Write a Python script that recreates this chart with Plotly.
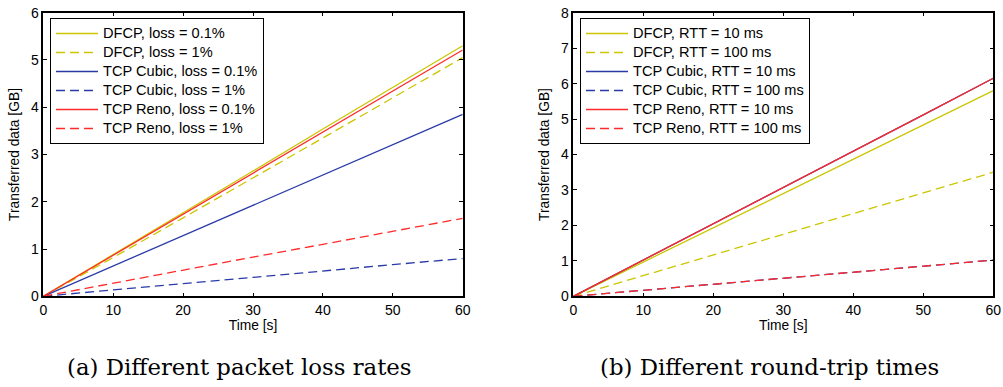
import plotly.graph_objects as go

t = [0, 10, 20, 30, 40, 50, 60]

# (a) packet loss
dfcp_l01 = [0, 0.88, 1.77, 2.65, 3.54, 4.42, 5.30]
dfcp_l1 = [0, 0.82, 1.66, 2.50, 3.35, 4.20, 5.05]
cubic_l01 = [0, 0.64, 1.28, 1.92, 2.56, 3.20, 3.85]
cubic_l1 = [0, 0.14, 0.27, 0.40, 0.54, 0.67, 0.80]
reno_l01 = [0, 0.87, 1.74, 2.61, 3.48, 4.35, 5.21]
reno_l1 = [0, 0.28, 0.55, 0.83, 1.10, 1.38, 1.65]

# (b) RTT
dfcp_r10 = [0, 0.97, 1.93, 2.90, 3.87, 4.83, 5.80]
dfcp_r100 = [0, 0.58, 1.17, 1.75, 2.33, 2.92, 3.50]
cubic_r10 = [0, 1.02, 2.05, 3.07, 4.10, 5.12, 6.15]
cubic_r100 = [0, 0.17, 0.34, 0.51, 0.68, 0.85, 1.02]
reno_r10 = [0, 1.02, 2.05, 3.07, 4.10, 5.12, 6.15]
reno_r100 = [0, 0.17, 0.34, 0.51, 0.68, 0.85, 1.02]

names_a = ["DFCP, loss = 0.1%", "DFCP, loss = 1%", "TCP Cubic, loss = 0.1%",
           "TCP Cubic, loss = 1%", "TCP Reno, loss = 0.1%", "TCP Reno, loss = 1%"]
names_b = ["DFCP, RTT = 10 ms", "DFCP, RTT = 100 ms", "TCP Cubic, RTT = 10 ms",
           "TCP Cubic, RTT = 100 ms", "TCP Reno, RTT = 10 ms", "TCP Reno, RTT = 100 ms"]
caption_a = "(a) Different packet loss rates"
caption_b = "(b) Different round-trip times"

YEL = "#cac600"
BLU = "#2a3aa8"
RED = "#ff2a2a"
colors = [YEL, YEL, BLU, BLU, RED, RED]
dashes = ["solid", "9px,5px", "solid", "9px,5px", "solid", "9px,5px"]

SANS = "Liberation Sans, Arial, sans-serif"


def lab(n):
    return '<span style="font-size:14.6px">' + n + "</span>"


fig = go.Figure()
series_a = [dfcp_l01, dfcp_l1, cubic_l01, cubic_l1, reno_l01, reno_l1]
series_b = [dfcp_r10, dfcp_r100, cubic_r10, cubic_r100, reno_r10, reno_r100]
for i, (n, y) in enumerate(zip(names_a, series_a)):
    fig.add_trace(go.Scatter(x=t, y=y, name=lab(n), mode="lines", xaxis="x", yaxis="y",
                             line=dict(color=colors[i], width=1.3, dash=dashes[i]),
                             legend="legend"))
for i, (n, y) in enumerate(zip(names_b, series_b)):
    fig.add_trace(go.Scatter(x=t, y=y, name=lab(n), mode="lines", xaxis="x2", yaxis="y2",
                             line=dict(color=colors[i], width=1.3, dash=dashes[i]),
                             legend="legend2"))

W, H = 1003, 387
ydom = [1 - 296.3 / H, 1 - 12.7 / H]
tickfont = dict(family=SANS, size=14, color="black")
titlefont = dict(family=SANS, size=13.8, color="black")
common = dict(showgrid=False, zeroline=False, showline=True, linecolor="black", linewidth=1.5,
              mirror="ticks", ticks="inside", ticklen=4, tickcolor="black", tickwidth=1,
              tickfont=tickfont, automargin=False)

legfont = dict(family=SANS, size=11.3, color="black")

fig.update_layout(
    width=W, height=H, margin=dict(l=0, r=0, t=0, b=0, autoexpand=False),
    paper_bgcolor="white", plot_bgcolor="white",
    xaxis=dict(domain=[43.3 / W, 462.7 / W], range=[0, 60], dtick=10, anchor="y",
               title=dict(text="Time [s]", font=titlefont, standoff=3), **common),
    yaxis=dict(domain=ydom, range=[0, 6], dtick=1, anchor="x",
               title=dict(text="Transferred data [GB]", font=titlefont, standoff=8), **common),
    xaxis2=dict(domain=[573.3 / W, 993.3 / W], range=[0, 60], dtick=10, anchor="y2",
                title=dict(text="Time [s]", font=titlefont, standoff=3), **common),
    yaxis2=dict(domain=ydom, range=[0, 8], dtick=1, anchor="x2",
                title=dict(text="Transferred data [GB]", font=titlefont, standoff=8), **common),
    legend=dict(x=50 / W, y=1 - 18 / H, xanchor="left", yanchor="top", bgcolor="white",
                bordercolor="black", borderwidth=1, tracegroupgap=0, font=legfont,
                itemwidth=42),
    legend2=dict(x=580 / W, y=1 - 18 / H, xanchor="left", yanchor="top", bgcolor="white",
                 bordercolor="black", borderwidth=1, tracegroupgap=0, font=legfont,
                 itemwidth=42),
    annotations=[
        dict(text=caption_a, x=239 / W, y=1 - 367 / H, xref="paper", yref="paper",
             showarrow=False, xanchor="center", yanchor="middle",
             font=dict(family="DejaVu Serif, serif", size=22.8, color="black")),
        dict(text=caption_b, x=769 / W, y=1 - 367 / H, xref="paper", yref="paper",
             showarrow=False, xanchor="center", yanchor="middle",
             font=dict(family="DejaVu Serif, serif", size=22.8, color="black")),
    ],
)

fig.write_html("out.html")
